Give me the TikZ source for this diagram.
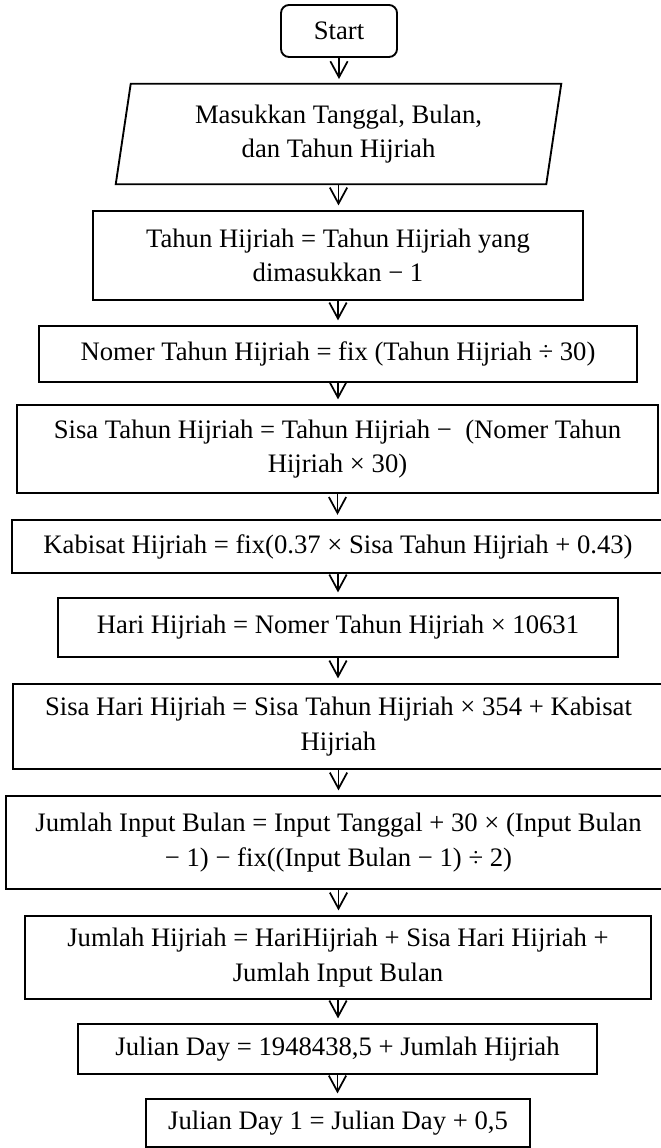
\documentclass[tikz,border=0pt]{standalone}
\usepackage{fontspec}
\setmainfont{Liberation Serif}
\usetikzlibrary{arrows.meta}
\begin{document}
\begin{tikzpicture}[x=0.75pt,y=-0.75pt,
  txt/.style={font=\fontsize{20}{26}\selectfont, align=center, inner sep=0pt},
  box/.style={txt, draw, line width=1.4pt, rectangle},
  thinbox/.style={box, line width=0.8pt},
  arr/.style={-{Straight Barb[length=12pt,width=13pt,line width=1.3pt]}, line width=1.3pt, shorten >=3.5pt}]
\useasboundingbox (0,0) rectangle (660,1148);

\node[box, rounded corners=6pt, minimum width=87pt, minimum height=39pt] (start) at (339,31) {Start};

\node[txt, minimum width=333.75pt, minimum height=75pt] (par) at (338.5,134) {Masukkan Tanggal, Bulan,\\dan Tahun Hijriah};
\draw[line width=1.4pt, line join=miter] (par.south west) -- ([xshift=-11.25pt]par.south east) -- (par.north east) -- ([xshift=11.25pt]par.north west) -- cycle;

\node[box, minimum width=367.5pt, minimum height=66.75pt] (b3) at (338,255.5) {Tahun Hijriah = Tahun Hijriah yang\\dimasukkan − 1};
\node[box, minimum width=448.5pt, minimum height=42pt] (b4) at (338,354) {Nomer Tahun Hijriah = fix (Tahun Hijriah ÷ 30)};
\node[box, minimum width=480.75pt, minimum height=66pt] (b5) at (337.5,449) {Sisa Tahun Hijriah = Tahun Hijriah − \ (Nomer Tahun\\Hijriah × 30)};
\node[thinbox, minimum width=489pt, minimum height=39.75pt] (b6) at (338,546.5) {Kabisat Hijriah = fix(0.37 × Sisa Tahun Hijriah + 0.43)};
\node[box, minimum width=420pt, minimum height=44.25pt] (b7) at (338,627.5) {Hari Hijriah = Nomer Tahun Hijriah × 10631};
\node[box, minimum width=488.25pt, minimum height=63.75pt] (b8) at (338.5,726.5) {Sisa Hari Hijriah = Sisa Tahun Hijriah × 354 + Kabisat\\Hijriah};
\node[box, minimum width=498.75pt, minimum height=69.75pt] (b9) at (338.5,842.5) {Jumlah Input Bulan = Input Tanggal + 30 × (Input Bulan\\− 1) − fix((Input Bulan − 1) ÷ 2)};
\node[box, minimum width=469.5pt, minimum height=62.25pt] (b10) at (338,957.5) {Jumlah Hijriah = HariHijriah + Sisa Hari Hijriah +\\Jumlah Input Bulan};
\node[box, minimum width=389.25pt, minimum height=37.5pt] (b11) at (337.5,1049) {Julian Day = 1948438,5 + Jumlah Hijriah};
\node[box, minimum width=288pt, minimum height=36pt] (b12) at (338,1123) {Julian Day 1 = Julian Day + 0,5};

\draw[arr] (start.south) -- (start.south |- par.north);
\draw[arr] (par.south) -- (par.south |- b3.north);
\draw[arr] (b3.south) -- (b3.south |- b4.north);
\draw[arr] (b4.south) -- (b4.south |- b5.north);
\draw[arr] (b5.south) -- (b5.south |- b6.north);
\draw[arr] (b6.south) -- (b6.south |- b7.north);
\draw[arr] (b7.south) -- (b7.south |- b8.north);
\draw[arr] (b8.south) -- (b8.south |- b9.north);
\draw[arr] (b9.south) -- (b9.south |- b10.north);
\draw[arr] (b10.south) -- (b10.south |- b11.north);
\draw[arr] (b11.south) -- (b11.south |- b12.north);
\end{tikzpicture}
\end{document}
